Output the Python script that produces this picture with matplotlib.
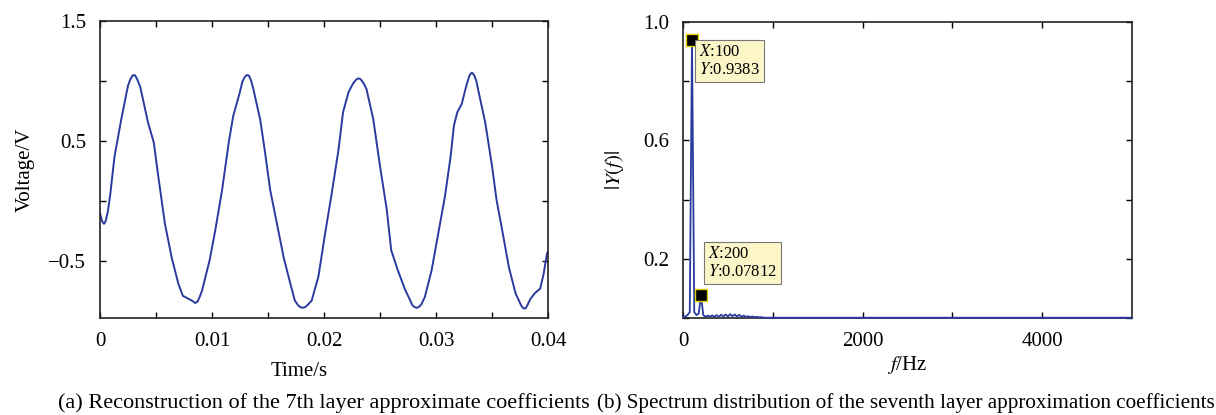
import matplotlib
matplotlib.use('Agg')
import matplotlib.pyplot as plt

plt.rcParams['font.family'] = ['Liberation Serif', 'DejaVu Serif']
plt.rcParams['mathtext.fontset'] = 'stix'
plt.rcParams['axes.unicode_minus'] = True

# (a) reconstructed signal
t = [0.0, 0.0002, 0.00036, 0.0005, 0.0007, 0.0009, 0.0013, 0.0019, 0.0025, 0.0027,
     0.0029, 0.0031, 0.0033, 0.0036, 0.0043, 0.0048, 0.0052, 0.0058, 0.0064, 0.0070,
     0.0074, 0.0080, 0.0083, 0.0085, 0.0087, 0.0089, 0.0091, 0.0098, 0.0103, 0.0109,
     0.0115, 0.0119, 0.0125, 0.0127, 0.0129, 0.0131, 0.0133, 0.0135, 0.0137, 0.0143,
     0.0147, 0.0152, 0.0158, 0.0164, 0.0170, 0.0174, 0.0177, 0.0179, 0.0181, 0.0183,
     0.0185, 0.0189, 0.0195, 0.0201, 0.0207, 0.0213, 0.0217, 0.0222, 0.0226, 0.0228,
     0.0230, 0.0232, 0.0234, 0.0236, 0.0238, 0.0244, 0.0250, 0.0256, 0.0260, 0.0266,
     0.0272, 0.0277, 0.0279, 0.0281, 0.0283, 0.0285, 0.0287, 0.0290, 0.0296, 0.0302,
     0.0308, 0.0313, 0.0316, 0.0319, 0.0323, 0.0327, 0.0330, 0.0332, 0.0334, 0.0336,
     0.0338, 0.0344, 0.0350, 0.0354, 0.0359, 0.0365, 0.0371, 0.0376, 0.0378, 0.0380,
     0.0382, 0.0384, 0.0388, 0.0393, 0.0396, 0.0399, 0.0400]
voltage = [-0.10, -0.17, -0.19, -0.17, -0.09, 0.04, 0.37, 0.68, 0.96, 1.01,
           1.045, 1.05, 1.02, 0.95, 0.65, 0.49, 0.21, -0.19, -0.47, -0.69,
           -0.79, -0.82, -0.835, -0.85, -0.84, -0.80, -0.75, -0.49, -0.24, 0.09,
           0.49, 0.71, 0.91, 0.99, 1.03, 1.05, 1.045, 1.00, 0.93, 0.68,
           0.43, 0.09, -0.19, -0.47, -0.69, -0.83, -0.87, -0.885, -0.89, -0.885,
           -0.87, -0.83, -0.63, -0.27, 0.07, 0.43, 0.74, 0.91, 0.98, 1.005,
           1.02, 1.02, 1.00, 0.97, 0.93, 0.68, 0.29, -0.07, -0.41, -0.58,
           -0.73, -0.83, -0.87, -0.885, -0.89, -0.88, -0.86, -0.80, -0.58, -0.27,
           0.04, 0.37, 0.63, 0.74, 0.81, 0.96, 1.05, 1.07, 1.05, 1.00,
           0.91, 0.65, 0.29, 0.01, -0.24, -0.55, -0.77, -0.87, -0.895, -0.895,
           -0.86, -0.82, -0.77, -0.73, -0.61, -0.44, -0.42]

# (b) single-sided spectrum
freq = [0, 25, 50, 75, 100, 125, 150, 175, 200, 225, 250, 275, 300, 325, 350, 375,
        400, 425, 450, 475, 500, 525, 550, 575, 600, 625, 650, 675, 700, 725, 750,
        775, 800, 825, 850, 875, 900, 1000, 5000]
mag = [0.003, 0.005, 0.010, 0.020, 0.9383, 0.020, 0.010, 0.015, 0.07812, 0.010,
       0.004, 0.008, 0.005, 0.009, 0.004, 0.010, 0.004, 0.011, 0.005, 0.012,
       0.005, 0.013, 0.006, 0.012, 0.005, 0.011, 0.004, 0.008, 0.004, 0.006,
       0.003, 0.005, 0.003, 0.004, 0.002, 0.003, 0.001, 0.001, 0.001]
tips = [(100, 0.9383), (200, 0.07812)]

line_color = '#2a3a9e'

fig = plt.figure(figsize=(12.16, 4.15), dpi=100)
ax1 = fig.add_axes([0.0822, 0.2337, 0.3685, 0.7157])
ax2 = fig.add_axes([0.5617, 0.2337, 0.3692, 0.7133])

for ax in (ax1, ax2):
    ax.tick_params(direction='in', top=True, right=True, length=4, width=1,
                   labelsize=15, pad=10)
    for s in ax.spines.values():
        s.set_linewidth(1.2)
        s.set_color('#222222')

ax1.plot(t, voltage, color=line_color, lw=1.4, solid_joinstyle='round')
ax1.set_xlim(0, 0.04)
ax1.set_ylim(-0.975, 1.5)
ax1.set_xticks([0, 0.005, 0.01, 0.015, 0.02, 0.025, 0.03, 0.035, 0.04])
ax1.set_xticklabels(['0', '', '0.01', '', '0.02', '', '0.03', '', '0.04'])
ax1.set_yticks([-0.5, 0, 0.5, 1.0, 1.5])
ax1.set_yticklabels(['\u22120.5', '', '0.5', '', '1.5'])
ax1.set_xlabel('Time/s', fontsize=15)
ax1.xaxis.set_label_coords(0.445, -0.148)
ax1.set_ylabel('Voltage/V', fontsize=15, labelpad=10)

ax2.plot(freq, mag, color=line_color, lw=1.3, clip_on=False, zorder=3)
ax2.set_xlim(0, 5000)
ax2.set_ylim(0, 1.0)
ax2.set_xticks([0, 1000, 2000, 3000, 4000])
ax2.set_xticklabels(['0', '', '2000', '', '4000'])
ax2.set_yticks([0, 0.2, 0.4, 0.6, 0.8, 1.0])
ax2.set_yticklabels(['', '0.2', '', '0.6', '', '1.0'])
ax2.set_xlabel('$f$/Hz', fontsize=15, labelpad=2)
ax2.set_ylabel('$|Y(f)|$', fontsize=15, labelpad=12)

offsets = [(5, -3, 'top'), (5, 35, 'top')]
for (fx, fy), (dx, dy, va) in zip(tips, offsets):
    ax2.plot(fx, fy, marker='s', ms=8, color='black', mec='#e0d000', mew=1,
             zorder=5, clip_on=False)
    ax2.annotate('$X$:%g\n$Y$:%s' % (fx, repr(fy)), xy=(fx, fy),
                 xytext=(dx, dy), textcoords='offset points', va=va, ha='left',
                 fontsize=12, linespacing=1.15,
                 bbox=dict(boxstyle='square,pad=0.25', fc='#fbf5c8', ec='#777777', lw=0.8),
                 zorder=6)

fig.text(0.266, 0.029, '(a) Reconstruction of the 7th layer approximate coefficients',
         ha='center', va='center', fontsize=16)
fig.text(0.745, 0.029, '(b) Spectrum distribution of the seventh layer approximation coefficients',
         ha='center', va='center', fontsize=15.2)

fig.savefig('out.png', dpi=100)
